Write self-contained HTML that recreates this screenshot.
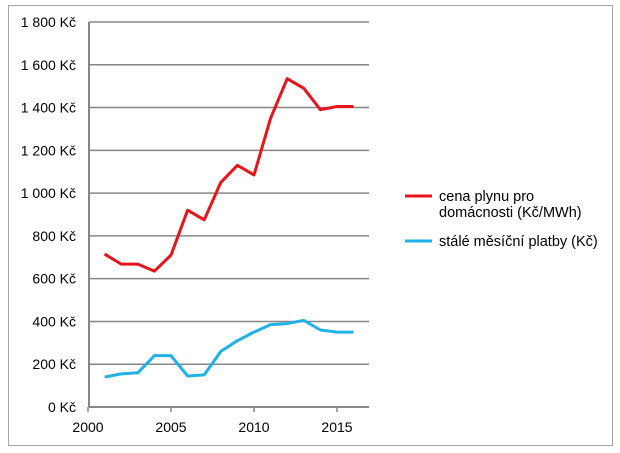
<!DOCTYPE html>
<html><head><meta charset="utf-8"><style>
body{margin:0;background:#fff;}
svg{display:block;font-family:"Liberation Sans",sans-serif;}
</style></head><body>
<svg id="c" width="620" height="453">
<rect x="8.5" y="5.5" width="604" height="440" fill="#fff" stroke="#a6a6a6"/>
<g id="grid"></g><g id="axes"></g><g id="series"></g>
<g font-size="14.5" fill="#000">
<line x1="405" y1="196" x2="432" y2="196" stroke="#e8141b" stroke-width="3"/>
<text x="439" y="201">cena plynu pro</text>
<text x="439" y="217">domácnosti (Kč/MWh)</text>
<line x1="405" y1="241" x2="432" y2="241" stroke="#1fb2e8" stroke-width="3"/>
<text x="439" y="246">stálé měsíční platby (Kč)</text>
</g>
</svg>
<script>
const years=[2001,2002,2003,2004,2005,2006,2007,2008,2009,2010,2011,2012,2013,2014,2015,2016];
const gasPrice=[715,668,668,635,710,920,875,1050,1130,1085,1350,1535,1490,1390,1405,1405];
const fixedFees=[140,155,160,240,240,145,150,260,310,350,385,390,405,360,350,350];
const yTicks=[0,200,400,600,800,1000,1200,1400,1600,1800];
const yTickLabels=["0 Kč","200 Kč","400 Kč","600 Kč","800 Kč","1 000 Kč","1 200 Kč","1 400 Kč","1 600 Kč","1 800 Kč"];
const xTicks=[2000,2005,2010,2015];
const NS="http://www.w3.org/2000/svg";
const X=v=>88+(v-2000)*16.6;
const Y=v=>407-v*(385/1800);
function mk(t,a,p){const e=document.createElementNS(NS,t);for(const k in a)e.setAttribute(k,a[k]);p.appendChild(e);return e;}
const grid=document.getElementById('grid'),axes=document.getElementById('axes'),ser=document.getElementById('series');
yTicks.forEach((v,i)=>{
 if(v>0){const l=mk('line',{x1:89,x2:369,y1:Y(v),y2:Y(v),stroke:'#868686','stroke-width':1.5},grid);
 
 }
 const t=mk('text',{x:76,y:Y(v)+5,'text-anchor':'end','font-size':14},axes);t.textContent=yTickLabels[i];
 
 
});
const ya=mk('line',{x1:89,x2:89,y1:Y(1800),y2:Y(0),stroke:'#868686','stroke-width':2},axes);


const xa=mk('line',{x1:89,x2:369,y1:Y(0),y2:Y(0),stroke:'#868686','stroke-width':2},axes);


xTicks.forEach(v=>{
 const tk=mk('line',{x1:X(v),x2:X(v),y1:Y(0),y2:Y(0)+5,stroke:'#868686','stroke-width':1.5},axes);
 
 
 const t=mk('text',{x:X(v),y:432,'text-anchor':'middle','font-size':14},axes);t.textContent=v;
 
 
});
function line(vals,col,name){
 const p=mk('polyline',{points:vals.map((v,i)=>X(years[i])+','+Y(v)).join(' '),fill:'none',stroke:col,'stroke-width':3,'stroke-linejoin':'round'},ser);
 
 
}
line(gasPrice,'#e8141b','gas-price-line');
line(fixedFees,'#1fb2e8','fixed-fees-line');
</script>
</body></html>
